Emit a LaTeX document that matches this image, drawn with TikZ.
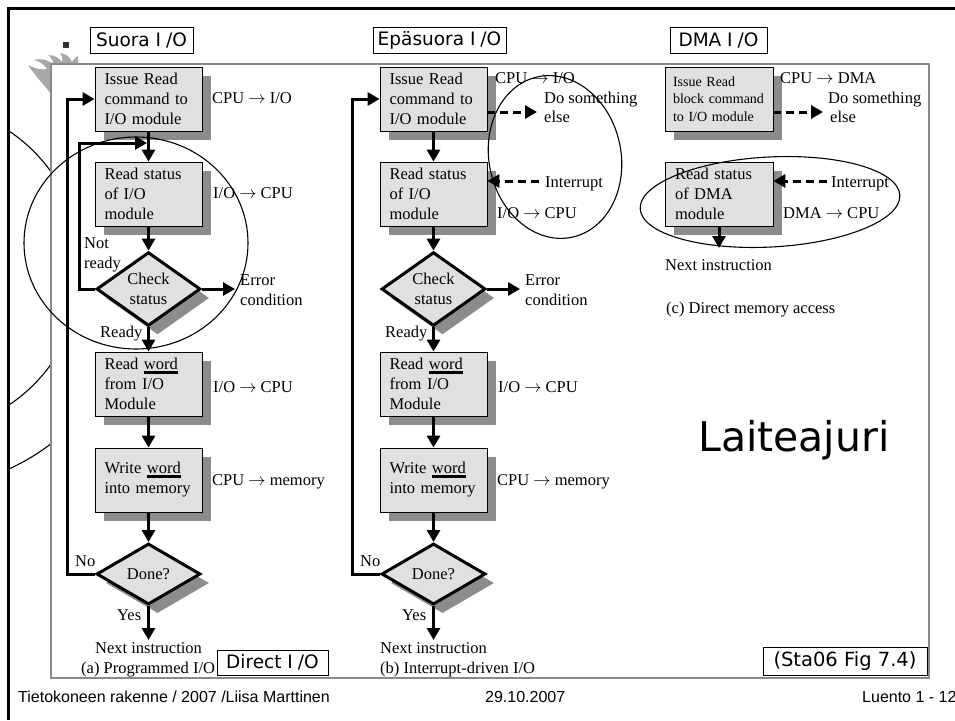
\documentclass[tikz,border=0pt]{standalone}
\usepackage{fontspec}
\setmainfont{Liberation Serif}
\newfontfamily\labelfont{DejaVu Sans}
\newfontfamily\footfont{Liberation Sans}
\usetikzlibrary{arrows.meta,shapes.geometric,shadows}

\definecolor{boxgrey}{HTML}{E0E0E0}
\definecolor{shadowgrey}{HTML}{8C8C8C}
\definecolor{framegrey}{HTML}{8A8A8A}
\definecolor{flamegrey}{HTML}{A8A8A8}

% word with a heavy underline, as in the flowchart boxes
\newcommand\ulword[1]{\leavevmode\vtop{\hbox{#1}\kern1.2pt\hrule height 2.6pt}}
% "I/O" with the wide slash spacing of the slide labels
\newcommand\io{I\kern5pt/O}

\tikzset{
  every node/.style={inner sep=0pt},
  body/.style={font=\fontsize{16.5}{20}\selectfont},
  txt/.style={body, anchor=base west},
  stepbox/.style={body, draw=black, line width=0.8pt, fill=boxgrey,
    minimum width=107pt, minimum height=64pt, text width=88pt, align=left,
    inner xsep=9.5pt,
    drop shadow={shadow xshift=9pt, shadow yshift=-9pt, fill=shadowgrey, opacity=1}},
  smallbox/.style={stepbox, font=\fontsize{14}{17.5}\selectfont,
    minimum width=108pt, text width=92pt, inner xsep=8pt},
  decision/.style={body, diamond, draw=black, line width=3pt, fill=boxgrey,
    minimum width=104pt, minimum height=61pt, align=center,
    drop shadow={shadow xshift=9pt, shadow yshift=-9pt, fill=shadowgrey, opacity=1}},
  arr/.style={line width=3pt, -{Triangle[length=12pt,width=13pt]}},
  dasharr/.style={arr, dash pattern=on 8pt off 5pt},
  tag/.style={draw=black, line width=0.8pt, fill=white,
    font=\labelfont\fontsize{18.5}{20}\selectfont, minimum height=26pt},
  ring/.style={line width=1.1pt},
  foot/.style={anchor=base west, font=\footfont\fontsize{16}{18}\selectfont},
}

\begin{document}
\begin{tikzpicture}[x=1pt,y=-1pt]
\useasboundingbox (0,0) rectangle (955,720);
\fill[white] (0,0) rectangle (955,720);

% decorative arcs on the left margin
\begin{scope}
  \clip (9,0) rectangle (51,720);
  \draw[ring] (-83,268) circle [radius=165];
\end{scope}
\begin{scope}
  \clip (9,268) rectangle (51,720);
  \draw[ring] (-83,268) circle [radius=221];
\end{scope}

% flame ornament behind the figure corner
\fill[flamegrey] (52,95) .. controls (45,86) and (37,78) .. (28,65)
  .. controls (36,69) and (42,70) .. (47,69)
  .. controls (44,64) and (40,62) .. (34,60)
  .. controls (42,58) and (48,60) .. (53,64)
  .. controls (53,60) and (51,57) .. (48,55)
  .. controls (55,55) and (59,58) .. (62,62)
  .. controls (63,58) and (62,56) .. (60,53)
  .. controls (66,54) and (70,57) .. (72,62)
  .. controls (74,59) and (76,57) .. (78,56)
  -- (78,95) -- cycle;

% slide frame
\draw[line width=3pt] (955,8) -- (8,8) -- (8,720);

% figure area
\draw[draw=framegrey, line width=1.5pt, fill=white] (51,64) rectangle (929,678);

% bullet and headings
\fill[black!80] (63,42) rectangle (69,48);
\node[tag, minimum width=103pt] (tagA) at (141.5,40) {Suora \io};
\node[tag, minimum width=133pt] (tagB) at (439.5,40) {Epäsuora \io};
\node[tag, minimum width=97pt]  (tagC) at (718.5,40) {DMA \io};

% ---------------- (a) Programmed I/O ----------------
\node[stepbox]  (a1) at (148.5,99)  {Issue Read\\command to\\I/O module};
\node[stepbox]  (a2) at (148.5,194) {Read status\\of I/O\\module};
\node[decision] (a3) at (148.5,289) {Check\\status};
\node[stepbox]  (a4) at (148.5,384) {Read \ulword{word}\\from I/O\\Module};
\node[stepbox]  (a5) at (148.5,480) {Write \ulword{word}\\into memory};
\node[decision] (a6) at (148.5,574) {Done?};
\coordinate (a7) at (148.5,640);
\coordinate (aerr) at (235,289);
\coordinate (amerge) at (147,143);

\draw[arr] (a1) -- (a2);
\draw[arr] (a2) -- (a3);
\draw[arr] (a3) -- (a4);
\draw[arr] (a4) -- (a5);
\draw[arr] (a5) -- (a6);
\draw[arr] (a6) -- (a7);
\draw[arr] (a3.east) -- (aerr);
\draw[arr] (a3.west) -- ++(-16,0) |- (amerge);
\draw[arr] (a6.west) -- ++(-28,0) |- (a1.west);

\node[txt] (aT1) at (212,103.5) {CPU $\rightarrow$ I/O};
\node[txt] (aT2) at (213,198.5) {I/O $\rightarrow$ CPU};
\node[txt] (aT3) at (84,248) {Not};
\node[txt] (aT4) at (84,268) {ready};
\node[txt] (aT5) at (240,285) {Error};
\node[txt] (aT6) at (240,305) {condition};
\node[txt] (aT7) at (100,337) {Ready};
\node[txt] (aT8) at (213,392) {I/O $\rightarrow$ CPU};
\node[txt] (aT9) at (212,485) {CPU $\rightarrow$ memory};
\node[txt] (aT10) at (75,566) {No};
\node[txt] (aT11) at (117,620) {Yes};
\node[txt] (aT12) at (95,653) {Next instruction};
\node[txt] (aT13) at (81,673) {(a) Programmed I/O};
\node[tag, minimum width=111pt, minimum height=25pt] (tagD) at (272.5,662.5) {Direct \io};

% ---------------- (b) Interrupt-driven I/O ----------------
\node[stepbox]  (b1) at (433.5,99)  {Issue Read\\command to\\I/O module};
\node[stepbox]  (b2) at (433.5,194) {Read status\\of I/O\\module};
\node[decision] (b3) at (433.5,289) {Check\\status};
\node[stepbox]  (b4) at (433.5,384) {Read \ulword{word}\\from I/O\\Module};
\node[stepbox]  (b5) at (433.5,480) {Write \ulword{word}\\into memory};
\node[decision] (b6) at (433.5,574) {Done?};
\coordinate (b7) at (433.5,640);
\coordinate (berr) at (520,289);
\coordinate (bdo) at (537,112);
\coordinate (bint) at (539,181);

\draw[arr] (b1) -- (b2);
\draw[arr] (b2) -- (b3);
\draw[arr] (b3) -- (b4);
\draw[arr] (b4) -- (b5);
\draw[arr] (b5) -- (b6);
\draw[arr] (b6) -- (b7);
\draw[arr] (b3.east) -- (berr);
\draw[arr] (b6.west) -- ++(-28,0) |- (b1.west);
\draw[dasharr] (b1.east |- bdo) -- (bdo);
\draw[dasharr] (bint) -- (bint -| b2.east);

\node[txt] (bT1) at (495,83) {CPU $\rightarrow$ I/O};
\node[txt] (bT2) at (544,103) {Do something};
\node[txt] (bT3) at (544,122) {else};
\node[txt] (bT4) at (545,187) {Interrupt};
\node[txt] (bT5) at (497,218) {I/O $\rightarrow$ CPU};
\node[txt] (bT6) at (525,285) {Error};
\node[txt] (bT7) at (525,305) {condition};
\node[txt] (bT8) at (385,337) {Ready};
\node[txt] (bT9) at (498,392) {I/O $\rightarrow$ CPU};
\node[txt] (bT10) at (497,485) {CPU $\rightarrow$ memory};
\node[txt] (bT11) at (360,566) {No};
\node[txt] (bT12) at (402,620) {Yes};
\node[txt] (bT13) at (380,653) {Next instruction};
\node[txt] (bT14) at (380,673) {(b) Interrupt-driven I/O};

% ---------------- (c) Direct memory access ----------------
\node[smallbox] (c1) at (719,99)  {Issue Read\\block command\\to I/O module};
\node[stepbox, minimum width=108pt] (c2) at (719,194) {Read status\\of DMA\\module};
\coordinate (cnext) at (719,248);
\coordinate (cdo) at (823,112);
\coordinate (cint) at (827,181);

\draw[arr] (c2) -- (cnext);
\draw[dasharr] (c1.east |- cdo) -- (cdo);
\draw[dasharr] (cint) -- (cint -| c2.east);

\node[txt] (cT1) at (780,83) {CPU $\rightarrow$ DMA};
\node[txt] (cT2) at (828,103) {Do something};
\node[txt] (cT3) at (830,122) {else};
\node[txt] (cT4) at (831,187) {Interrupt};
\node[txt] (cT5) at (783,218) {DMA $\rightarrow$ CPU};
\node[txt] (cT6) at (665,270) {Next instruction};
\node[txt] (cT7) at (666,313) {(c) Direct memory access};

% highlight rings
\draw[ring] (136,243) ellipse [x radius=112, y radius=106];
\draw[ring, rotate around={12:(555,157)}] (555,157) ellipse [x radius=66, y radius=82];
\draw[ring, rotate around={3:(770,202)}] (770,202) ellipse [x radius=130, y radius=45];

% big caption and source tag
\node[anchor=base west, font=\labelfont\fontsize{41}{45}\selectfont] (drv) at (698,451) {Laiteajuri};
\node[tag, minimum width=164pt, minimum height=28pt, font=\labelfont\fontsize{19.5}{22}\selectfont] (src) at (845,661) {(Sta06 Fig 7.4)};

% footer
\node[foot] (f1) at (18,702) {Tietokoneen rakenne / 2007 /Liisa Marttinen};
\node[foot] (f2) at (485,702) {29.10.2007};
\node[foot] (f3) at (862,702) {Luento 1 - 12};
\end{tikzpicture}
\end{document}
